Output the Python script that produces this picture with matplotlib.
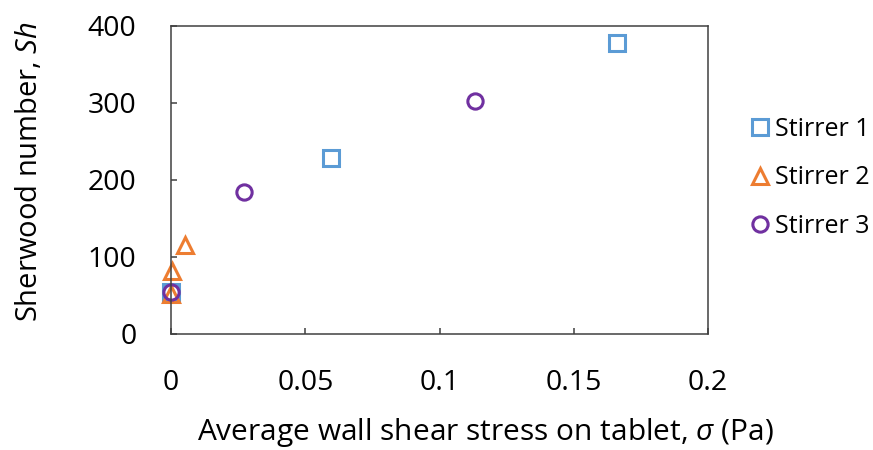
import matplotlib.pyplot as plt

plt.rcParams['font.family'] = ['Open Sans', 'DejaVu Sans']
plt.rcParams['mathtext.fontset'] = 'custom'
plt.rcParams['mathtext.rm'] = 'Open Sans'
plt.rcParams['mathtext.it'] = 'Open Sans:italic'

# shear stress (Pa) vs Sherwood number for each stirrer
s1_x = [0.0, 0.0596, 0.1661]
s1_y = [55, 228, 377]
s2_x = [0.0, 0.0004, 0.0052]
s2_y = [52, 81, 115]
s3_x = [0.0, 0.0272, 0.1132]
s3_y = [54, 184, 302]

labels = ['Stirrer 1', 'Stirrer 2', 'Stirrer 3']
colors = ['#5B9BD5', '#ED7D31', '#7030A0']
markers = ['s', '^', 'o']

fig = plt.figure(figsize=(8.73, 4.5), dpi=100)
ax = fig.add_axes([0.196, 0.258, 0.615, 0.685])

for xs, ys, lab, c, m in zip([s1_x, s2_x, s3_x], [s1_y, s2_y, s3_y], labels, colors, markers):
    ax.plot(xs, ys, linestyle='none', marker=m, markersize=11, markerfacecolor='none',
            markeredgecolor=c, markeredgewidth=2.2, label=lab, clip_on=False)

ax.set_xlim(0, 0.2)
ax.set_ylim(0, 400)
ax.set_xticks([0, 0.05, 0.1, 0.15, 0.2])
ax.set_xticklabels(['0', '0.05', '0.1', '0.15', '0.2'])
ax.set_yticks([0, 100, 200, 300, 400])

for sp in ax.spines.values():
    sp.set_color('#404040')
    sp.set_linewidth(1.1)
ax.tick_params(axis='x', direction='in', length=4, width=1.1, color='#404040', pad=25, labelsize=20.5)
ax.tick_params(axis='y', direction='in', length=4, width=1.1, color='#404040', pad=25, labelsize=20.5)

ax.set_xlabel('Average wall shear stress on tablet, $\\sigma$ (Pa)', fontsize=21.5)
ax.set_ylabel('Sherwood number, $Sh$', fontsize=21)
ax.xaxis.set_label_coords(0.585, -0.32, transform=ax.transAxes)
ax.xaxis.label.set_va('center')
ax.yaxis.set_label_coords(-0.265, 0.525, transform=ax.transAxes)
ax.yaxis.label.set_va('center')

ax.legend(loc='center left', bbox_to_anchor=(0.845, 0.605), bbox_transform=fig.transFigure,
          frameon=False, fontsize=18, handletextpad=0.1, handlelength=1.0,
          labelspacing=0.95, borderaxespad=0)

fig.savefig('out.png', dpi=100)
